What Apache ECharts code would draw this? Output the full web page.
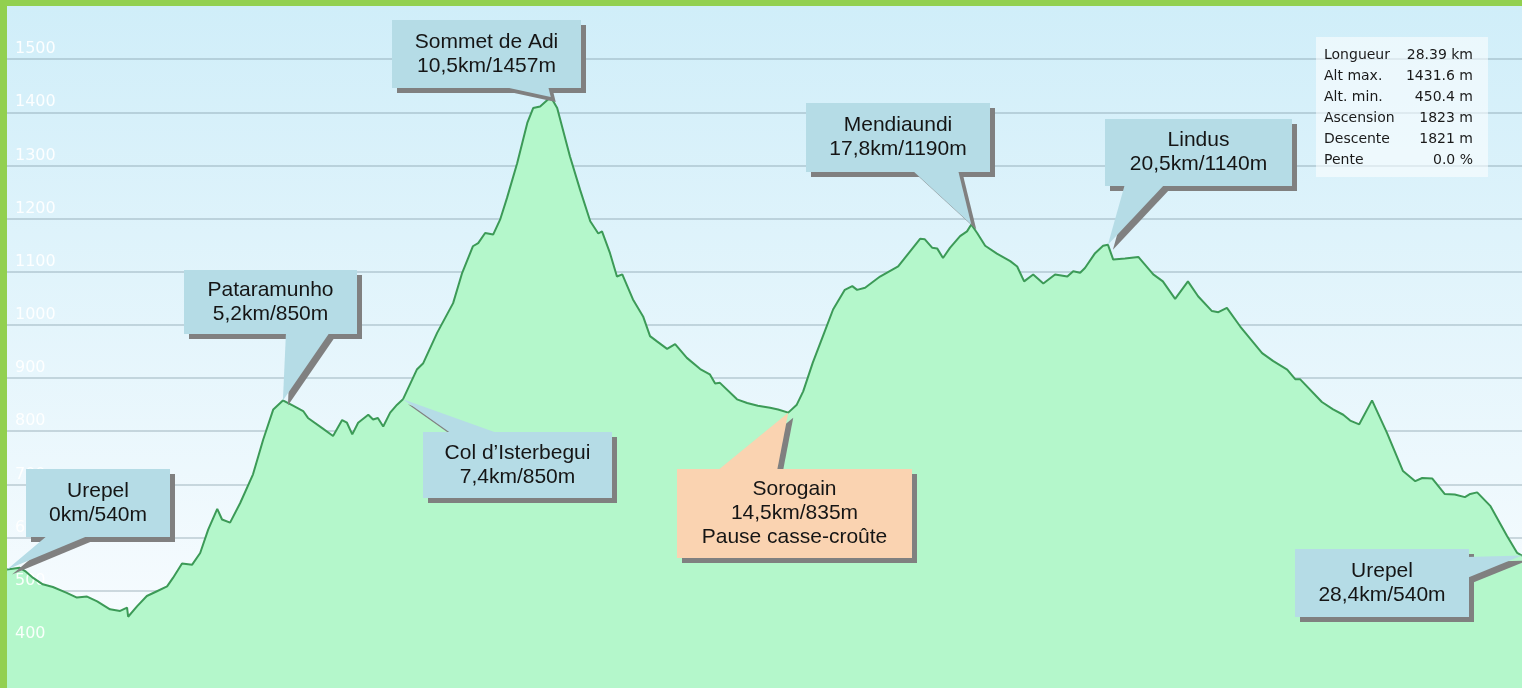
<!DOCTYPE html>
<html>
<head>
<meta charset="utf-8">
<title>Profil Urepel - Sommet de Adi - Lindus</title>
<script src="https://cdn.jsdelivr.net/npm/echarts@6/dist/echarts.min.js"></script>
<style>
  html, body { margin: 0; padding: 0; width: 1522px; height: 688px; overflow: hidden; background: #92d050; }
  #main { position: absolute; left: 7px; top: 6px; width: 1515px; height: 691px;
          background: linear-gradient(to bottom, #d0eef9 0%, #fbfdff 100%); }
</style>
</head>
<body>
<div id="main"></div>
<script>
var distKm = [
  0, 0.24, 0.34, 0.49, 0.67, 0.86, 1.12, 1.31, 1.50, 1.69,
  1.93, 2.12, 2.25, 2.27, 2.44, 2.62, 2.81, 3.00, 3.11, 3.28,
  3.47, 3.62, 3.77, 3.94, 4.03, 4.18, 4.37, 4.61, 4.80, 4.99,
  5.17, 5.36, 5.55, 5.64, 5.92, 6.11, 6.28, 6.37, 6.47, 6.58,
  6.77, 6.86, 6.95, 7.05, 7.18, 7.31, 7.42, 7.68, 7.80, 8.06,
  8.36, 8.53, 8.73, 8.83, 8.96, 9.11, 9.24, 9.37, 9.56, 9.75,
  9.86, 9.99, 10.19, 10.31, 10.55, 10.74, 10.93, 11.08, 11.15, 11.30,
  11.43, 11.53, 11.73, 11.92, 12.05, 12.18, 12.37, 12.52, 12.74, 12.99,
  13.17, 13.27, 13.36, 13.68, 13.87, 14.07, 14.30, 14.45, 14.64, 14.80,
  14.92, 15.10, 15.29, 15.48, 15.70, 15.84, 15.93, 16.08, 16.36, 16.70,
  16.92, 17.11, 17.20, 17.34, 17.43, 17.54, 17.67, 17.86, 17.99, 18.07,
  18.18, 18.33, 18.55, 18.80, 18.93, 19.06, 19.23, 19.42, 19.64, 19.87,
  19.98, 20.11, 20.20, 20.39, 20.54, 20.63, 20.73, 20.95, 21.20, 21.48,
  21.66, 21.89, 22.13, 22.32, 22.58, 22.70, 22.86, 23.11, 23.52, 23.73,
  23.99, 24.14, 24.23, 24.64, 24.85, 25.04, 25.17, 25.34, 25.58, 25.86,
  26.16, 26.39, 26.52, 26.71, 26.94, 27.13, 27.32, 27.42, 27.55, 27.80,
  28.11, 28.30, 28.39
];
var altitude = [
  540, 543, 537, 524, 512, 507, 496, 487, 489, 480,
  465, 462, 468, 451, 471, 490, 499, 508, 524, 551,
  549, 571, 615, 654, 634, 628, 665, 719, 784, 841,
  858, 848, 838, 825, 805, 791, 821, 816, 794, 816,
  831, 822, 825, 809, 835, 850, 860, 916, 928, 985,
  1041, 1098, 1148, 1154, 1173, 1170, 1198, 1239, 1304, 1380,
  1408, 1411, 1429, 1408, 1317, 1254, 1195, 1172, 1176, 1135,
  1091, 1095, 1048, 1016, 979, 969, 955, 964, 938, 917,
  907, 890, 891, 860, 853, 848, 844, 841, 835, 850,
  875, 929, 979, 1029, 1066, 1073, 1066, 1070, 1091, 1110,
  1138, 1162, 1161, 1145, 1144, 1126, 1145, 1167, 1176, 1189,
  1173, 1149, 1134, 1120, 1110, 1082, 1095, 1078, 1095, 1091,
  1101, 1098, 1107, 1135, 1149, 1151, 1123, 1125, 1128, 1095,
  1082, 1049, 1082, 1054, 1026, 1024, 1032, 997, 947, 932,
  916, 898, 898, 855, 841, 831, 820, 813, 858, 797,
  725, 706, 712, 711, 682, 681, 676, 682, 685, 659,
  603, 571, 566
];

// axe des altitudes
var yMin = 300, yMax = 1600, yStep = 100;
var yFirstLabel = 400, yLastLabel = 1500;
var totalKm = 28.39;

// points remarquables
var poiNames = ['Urepel', 'Pataramunho', 'Sommet de Adi', 'Col d\u2019Isterbegui', 'Sorogain', 'Mendiaundi', 'Lindus', 'Urepel'];
var poiText = ['0km/540m', '5,2km/850m', '10,5km/1457m', '7,4km/850m', '14,5km/835m\nPause casse-croûte', '17,8km/1190m', '20,5km/1140m', '28,4km/540m'];
var poiKm = [0, 5.17, 10.19, 7.42, 14.64, 18.07, 20.63, 28.39];

// tableau des stats
var statLabels = ['Longueur', 'Alt max.', 'Alt. min.', 'Ascension', 'Descente', 'Pente'];
var statValues = ['28.39 km', '1431.6 m', '450.4 m', '1823 m', '1821 m', '0.0 %'];

// position des bulles (px dans le graphique), base = pied de la pointe
var boxes = [
  { x: 19, y: 463, w: 144, h: 68, base: [[41, 529], [83, 529]] },
  { x: 177, y: 264, w: 173, h: 64, base: [[279, 326], [323, 326]] },
  { x: 385, y: 14, w: 189, h: 68, base: [[493, 80], [541, 80]] },
  { x: 416, y: 426, w: 189, h: 66, base: [[445, 428], [493, 428]] },
  { x: 670, y: 463, w: 235, h: 89, base: [[710, 465], [770, 465]], color: '#fad3b1' },
  { x: 799, y: 97, w: 184, h: 69, base: [[905, 164], [951, 164]] },
  { x: 1098, y: 113, w: 187, h: 67, base: [[1118, 178], [1158, 178]] },
  { x: 1288, y: 543, w: 174, h: 68, base: [[1460, 551], [1460, 572]] }
];

var chart = echarts.init(document.getElementById('main'));

var points = [];
for (var i = 0; i < distKm.length; i++) {
  points.push([distKm[i], altitude[i]]);
}

chart.setOption({
  animation: false,
  backgroundColor: 'transparent',
  grid: { left: 0, right: 0, top: 0, bottom: 0, outerBoundsMode: 'none' },
  xAxis: { type: 'value', min: 0, max: totalKm, show: false },
  yAxis: {
    type: 'value',
    min: yMin,
    max: yMax,
    interval: yStep,
    z: 3,
    axisLine: { show: false },
    axisTick: { show: false },
    axisLabel: {
      inside: true,
      margin: 8,
      color: 'rgba(255,255,255,0.92)',
      fontSize: 16,
      fontFamily: 'DejaVu Sans',
      verticalAlign: 'bottom',
      padding: [0, 0, 2, 0],
      formatter: function (v) {
        return (v < yFirstLabel || v > yLastLabel) ? '' : String(v);
      }
    },
    splitLine: {
      show: true,
      showMaxLine: false,
      showMinLine: false,
      lineStyle: { color: 'rgba(110,135,150,0.3)', width: 2 }
    }
  },
  series: [{
    type: 'line',
    data: points,
    showSymbol: false,
    symbol: 'none',
    lineStyle: { color: '#3c9a57', width: 2 },
    areaStyle: { color: '#b4f7cb', opacity: 1 }
  }]
});

// bulles + stats
var els = [];
for (var k = 0; k < poiNames.length; k++) {
  var b = boxes[k];
  var idx = distKm.indexOf(poiKm[k]);
  var tip = chart.convertToPixel({ seriesIndex: 0 }, [distKm[idx], altitude[idx]]);
  var tri = [b.base[0], b.base[1], tip];
  var fill = b.color || '#b5dce6';
  els.push({ type: 'rect', z: 100, shape: { x: b.x + 5, y: b.y + 5, width: b.w, height: b.h }, style: { fill: '#808080' } });
  els.push({ type: 'polygon', z: 100, shape: { points: tri.map(function (p) { return [p[0] + 5, p[1] + 5]; }) }, style: { fill: '#808080' } });
  els.push({ type: 'rect', z: 101, shape: { x: b.x, y: b.y, width: b.w, height: b.h }, style: { fill: fill } });
  els.push({ type: 'polygon', z: 101, shape: { points: tri }, style: { fill: fill } });
  els.push({
    type: 'text', z: 102,
    style: {
      x: b.x + b.w / 2, y: b.y + b.h / 2,
      text: poiNames[k] + '\n' + poiText[k],
      fill: '#151515',
      fontSize: 21, fontFamily: 'Liberation Sans', lineHeight: 24,
      align: 'center', textAlign: 'center',
      verticalAlign: 'middle', textVerticalAlign: 'middle'
    }
  });
}

els.push({ type: 'rect', z: 100, shape: { x: 1309, y: 31, width: 172, height: 140 }, style: { fill: 'rgba(255,255,255,0.55)' } });
for (var s = 0; s < statLabels.length; s++) {
  var ty = 49 + s * 21;
  els.push({ type: 'text', z: 101, style: { x: 1317, y: ty, text: statLabels[s], fill: '#1a1a1a', fontSize: 14, fontFamily: 'DejaVu Sans', align: 'left', textAlign: 'left', verticalAlign: 'middle', textVerticalAlign: 'middle' } });
  els.push({ type: 'text', z: 101, style: { x: 1466, y: ty, text: statValues[s], fill: '#1a1a1a', fontSize: 14, fontFamily: 'DejaVu Sans', align: 'right', textAlign: 'right', verticalAlign: 'middle', textVerticalAlign: 'middle' } });
}

chart.setOption({ graphic: { elements: els } });
</script>
</body>
</html>
